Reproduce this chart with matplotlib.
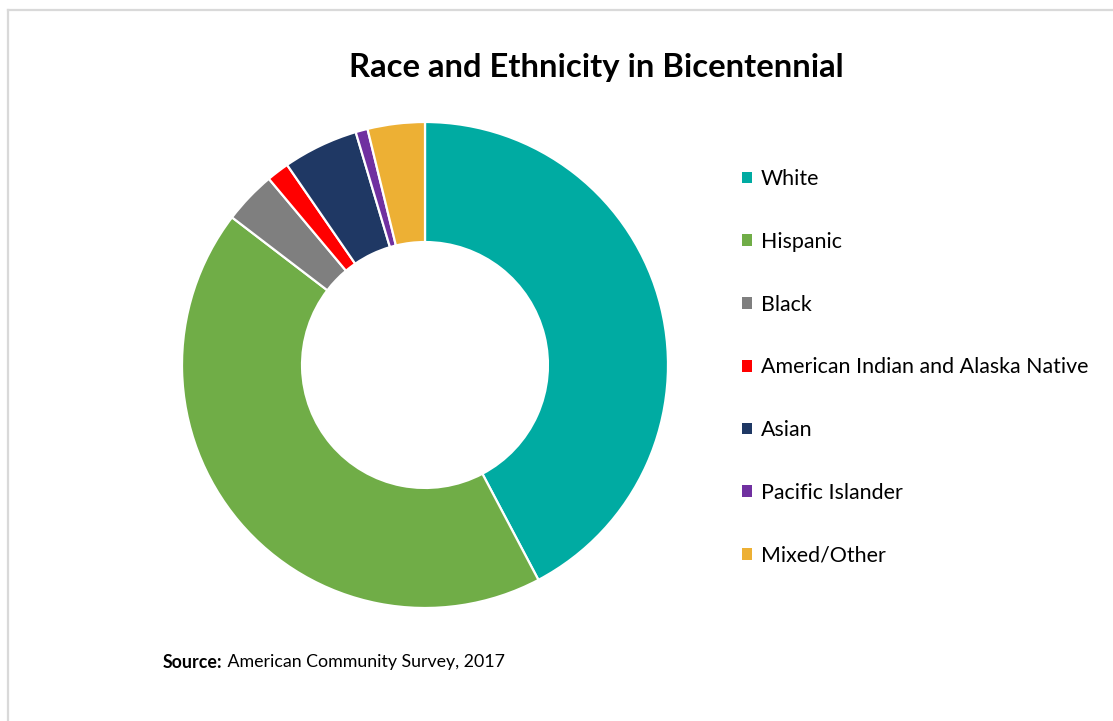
import matplotlib
matplotlib.use("Agg")
import matplotlib.pyplot as plt
from matplotlib.patches import Patch
from matplotlib.lines import Line2D

plt.rcParams['font.family'] = ['Lato', 'DejaVu Sans']

# Datos (porcentaje de poblacion)
categorias = ['White', 'Hispanic', 'Black', 'American Indian and Alaska Native',
              'Asian', 'Pacific Islander', 'Mixed/Other']
valores = [42.25, 43.1, 3.5, 1.5, 5.0, 0.8, 3.8]
colores = ['#00ABA2', '#70AD47', '#7F7F7F', '#FF0000', '#1F3864', '#7030A0', '#EDB034']

titulo = 'Race and Ethnicity in Bicentennial'
fuente = 'American Community Survey, 2017'

W, H = 1113, 721
fig = plt.figure(figsize=(W / 100, H / 100), dpi=100)

# marco gris claro alrededor
fig.add_artist(Line2D([8 / W, 1.0], [1 - 10 / H, 1 - 10 / H], color='#D9D9D9', lw=1.6))
fig.add_artist(Line2D([8 / W, 8 / W], [0, 1 - 10 / H], color='#D9D9D9', lw=1.6))

# dona
cx, cy, r = 425, 365, 243
ax = fig.add_axes([(cx - r) / W, (H - cy - r) / H, 2 * r / W, 2 * r / H])
wedges, _ = ax.pie(valores, colors=colores, startangle=90, counterclock=False,
                   radius=1.0, wedgeprops=dict(width=0.494, edgecolor='white', linewidth=1.6))
ax.set_xlim(-1, 1)
ax.set_ylim(-1, 1)
ax.set_aspect('equal')
ax.axis('off')

fig.text(596 / W, 1 - 67 / H, titulo, ha='center', va='center',
         fontsize=23.6, fontweight='bold', color='black')

# leyenda
handles = [Patch(facecolor=c, edgecolor='none') for c in colores]
fig.legend(handles, categorias, loc='upper left', bbox_to_anchor=(742 / W, 1 - 169 / H),
           frameon=False, fontsize=15.4, labelspacing=2.0, handlelength=0.47,
           handleheight=0.47, handletextpad=0.4, borderpad=0, borderaxespad=0)

# fuente
t1 = fig.text(163 / W, 1 - 662 / H, 'Source:', fontsize=12.8, fontweight='bold', va='center')
plt.annotate(' ' + fuente, xy=(1, 0.5), xycoords=t1, va='center', ha='left', fontsize=12.8)

fig.savefig('out.png', dpi=100, facecolor='white')
